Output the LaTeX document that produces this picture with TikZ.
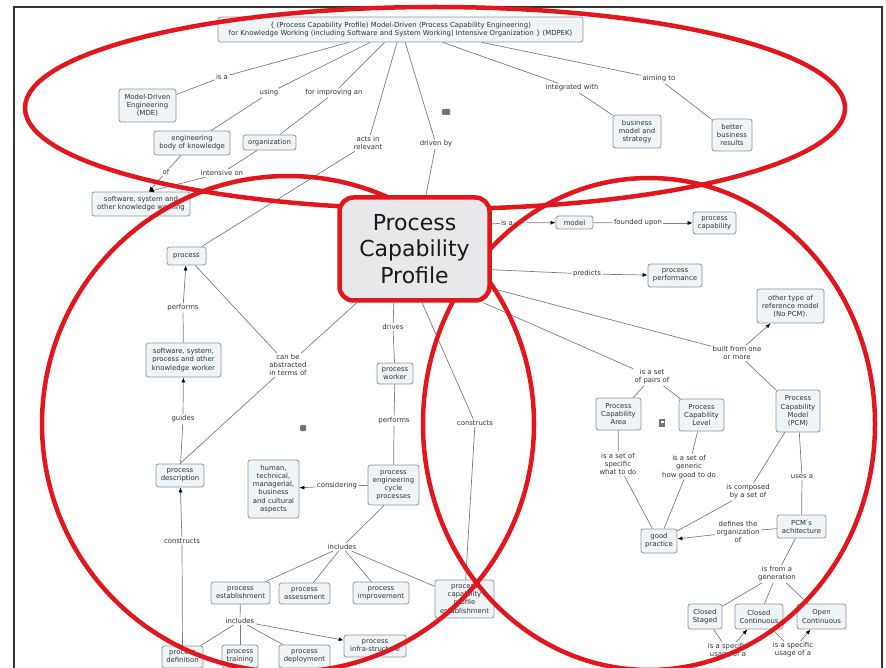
\documentclass[tikz,border=0pt]{standalone}
\usepackage{fontspec}
\setmainfont{DejaVu Sans}
\usetikzlibrary{arrows.meta,calc}

\definecolor{cfill}{HTML}{EEF4F7}
\definecolor{cline}{HTML}{8E9598}
\definecolor{ink}{HTML}{333333}
\definecolor{wire}{HTML}{7C7C7C}
\definecolor{ringred}{HTML}{E3161D}
\definecolor{hubfill}{HTML}{E8E8EB}

\pgfdeclarelayer{rings}
\pgfdeclarelayer{hubs}
\pgfsetlayers{main,rings,hubs}

\tikzset{
  concept/.style={draw=cline, fill=cfill, rounded corners=2.5pt, line width=0.8pt,
    text=ink, align=center, font=\fontsize{6.9}{8.1}\selectfont, inner sep=1pt},
  phrase/.style={text=ink, align=center, font=\fontsize{6.9}{8.1}\selectfont,
    inner sep=1.2pt, fill=white},
  hub/.style={draw=ringred, line width=4.5pt, fill=hubfill, rounded corners=14pt,
    text=black!90, align=center, font=\fontsize{22}{26.5}\selectfont,
    minimum width=150pt, minimum height=103pt},
  link/.style={draw=wire, line width=0.7pt},
  tolink/.style={link, -{Latex[length=5pt,width=4pt,color=black]}},
  ring/.style={draw=ringred, line width=4.5pt},
  icon/.style={fill=black!55, draw=none}
}

\begin{document}
\begin{tikzpicture}[x=1pt,y=-1pt]
\useasboundingbox (0,0) rectangle (886,668);

% page frame
\draw[black!80, line width=1.2pt] (14,700) -- (14,7) -- (882,7) -- (882,700);

% central concept
\begin{pgfonlayer}{hubs}
\node[hub] (pcp) at (414.5,249) {Process\\Capability\\Profile};
\end{pgfonlayer}

% ---------- concepts ----------
\node[concept, minimum width=365pt, minimum height=25pt] (top) at (400.5,29.5)
  {\{ (Process Capability Profile) Model-Driven (Process Capability Engineering)\\
   for Knowledge Working (including Software and System Working) Intensive Organization \} (MDPEK)};
\node[concept, minimum width=57pt, minimum height=33pt] (mde) at (147.5,105.5) {Model-Driven\\Engineering\\(MDE)};
\node[concept, minimum width=76pt, minimum height=24pt] (ebk) at (192,143) {engineering\\body of knowledge};
\node[concept, minimum width=53pt, minimum height=15pt] (org) at (269.5,142.5) {organization};
\node[concept, minimum width=98pt, minimum height=24pt] (sw) at (141,204) {software, system and\\other knowledge working};
\node[concept, minimum width=48pt, minimum height=33pt] (bms) at (637,131.5) {business\\model and\\strategy};
\node[concept, minimum width=40pt, minimum height=32pt] (bbr) at (732,135) {better\\business\\results};

\node[concept, minimum width=37pt, minimum height=13pt] (model) at (574.5,222.5) {model};
\node[concept, minimum width=43pt, minimum height=22pt] (pcap) at (714.5,223) {process\\capability};
\node[concept, minimum width=54pt, minimum height=23pt] (pperf) at (675,275.5) {process\\performance};
\node[concept, minimum width=67pt, minimum height=34pt] (other) at (790.5,306) {other type of\\reference model\\(No PCM).};
\node[concept, minimum width=45pt, minimum height=32pt] (pca) at (618.5,414) {Process\\Capability\\Area};
\node[concept, minimum width=45pt, minimum height=32pt] (pcl) at (701.5,415) {Process\\Capability\\Level};
\node[concept, minimum width=44pt, minimum height=42pt] (pcm) at (798,411) {Process\\Capability\\Model\\(PCM)};
\node[concept, minimum width=36pt, minimum height=24pt] (gp) at (659,541) {good\\practice};
\node[concept, minimum width=49pt, minimum height=23pt] (arch) at (801.5,526.5) {PCM\'{}s\\achitecture};
\node[concept, minimum width=34pt, minimum height=25pt] (cs) at (705,616.5) {Closed\\Staged};
\node[concept, minimum width=48pt, minimum height=25pt] (cc) at (759,616.5) {Closed\\Continuous};
\node[concept, minimum width=49pt, minimum height=25pt] (oc) at (821.5,616.5) {Open\\Continuous};

\node[concept, minimum width=39pt, minimum height=18pt] (proc) at (186.5,256) {process};
\node[concept, minimum width=75pt, minimum height=34pt] (kw) at (183.5,360) {software, system,\\process and other\\knowledge worker};
\node[concept, minimum width=48pt, minimum height=23pt] (pdesc) at (180,475.5) {process\\description};
\node[concept, minimum width=36pt, minimum height=21pt] (pworker) at (395,373.5) {process\\worker};
\node[concept, minimum width=51pt, minimum height=40pt] (pecp) at (393.5,485) {process\\engineering\\cycle\\processes};
\node[concept, minimum width=51pt, minimum height=58pt] (human) at (273.5,489) {human,\\technical,\\managerial,\\business\\and cultural\\aspects};
\node[concept, minimum width=59pt, minimum height=22pt] (pest) at (240.5,593) {process\\establishment};
\node[concept, minimum width=51pt, minimum height=21pt] (passess) at (304.5,593.5) {process\\assessment};
\node[concept, minimum width=56pt, minimum height=22pt] (pimpr) at (381,593) {process\\improvement};
\node[concept, minimum width=59pt, minimum height=38pt] (pcpe) at (464.5,599) {process\\capability\\profile\\establishment};
\node[concept, minimum width=41pt, minimum height=22pt] (pdef) at (182.5,657) {process\\definition};
\node[concept, minimum width=36pt, minimum height=23pt] (ptrain) at (240,656.5) {process\\training};
\node[concept, minimum width=51pt, minimum height=23pt] (pdeploy) at (304.5,656.5) {process\\deployment};
\node[concept, minimum width=62pt, minimum height=22pt] (pinfra) at (375,646) {process\\infra-structure};

% ---------- linking phrases ----------
\node[phrase] (isa1) at (222,77) {is a};
\node[phrase] (using) at (269,93) {using};
\node[phrase] (forimp) at (334,93) {for improving an};
\node[phrase] (acts) at (368,143) {acts in\\relevant};
\node[phrase] (drivenby) at (436,144) {driven by};
\node[phrase] (integ) at (572,88) {integrated with};
\node[phrase] (aiming) at (659,79) {aiming to};
\node[phrase] (of) at (166,172) {of};
\node[phrase] (intens) at (222,173) {intensive on};
\node[phrase] (isa2) at (507,223) {is a};
\node[phrase] (founded) at (638,223) {founded upon};
\node[phrase] (predicts) at (587,274) {predicts};
\node[phrase] (built) at (737,353) {built from one\\or more};
\node[phrase] (pairs) at (652,377) {is a set\\of pairs of};
\node[phrase] (specific) at (618,464) {is a set of\\specific\\what to do};
\node[phrase] (generic) at (689,467) {is a set of\\generic\\how good to do};
\node[phrase] (composed) at (748,492) {is composed\\by a set of};
\node[phrase] (usesa) at (802,477) {uses a};
\node[phrase] (defines) at (738,532) {defines the\\organization\\of};
\node[phrase] (gen) at (777,574) {is from a\\generation};
\node[phrase] (usage1) at (728,651) {is a specific\\usage of a};
\node[phrase] (usage2) at (793,650) {is a specific\\usage of a};
\node[phrase] (performsA) at (183,308) {performs};
\node[phrase] (abstr) at (288,365) {can be\\abstracted\\in terms of};
\node[phrase] (guides) at (183,419) {guides};
\node[phrase] (constructsA) at (182,541) {constructs};
\node[phrase] (drives) at (393,327) {drives};
\node[phrase] (performsB) at (394,421) {performs};
\node[phrase] (considering) at (337,486) {considering};
\node[phrase] (inclA) at (342,547) {includes};
\node[phrase] (constructsB) at (475,423) {constructs};
\node[phrase] (inclB) at (240,621) {includes};

% ---------- connectors ----------
\draw[link] (top.-166.85) -- (isa1);   \draw[link] (isa1) -- (mde);
\draw[link] (top.-157.7) -- (using);   \draw[link] (using) -- (ebk);
\draw[link] (top.-141.1) -- (forimp);  \draw[link] (forimp) -- (org);
\draw[link] (top.-105.6) -- (acts);    \draw[link] (acts) -- (proc);
\draw[link] (top.-70.2) -- (drivenby); \draw[link] (drivenby) -- (pcp.78.5);
\draw[link] (top.-17.6) -- (integ);    \draw[link] (integ) -- (bms);
\draw[link] (top.-9.8) -- (aiming);    \draw[link] (aiming) -- (bbr);
\draw[link] (ebk) -- (of);    \draw[tolink] (of) -- (sw.58);
\draw[link] (org) -- (intens);\draw[tolink] (intens) -- (sw.58);

\draw[link] (pcp.18) -- (isa2);        \draw[tolink] (isa2) -- (model);
\draw[link] (model) -- (founded);      \draw[tolink] (founded) -- (pcap);
\draw[link] (pcp.-15) -- (predicts);   \draw[tolink] (predicts) -- (pperf);
\draw[link] (pcp.-27) -- (built);      \draw[tolink] (built) -- (other);
\draw[link] (built) -- (pcm);
\draw[link] (pcp.-38) -- (pairs);
\draw[link] (pairs) -- (pca);          \draw[link] (pairs) -- (pcl);
\draw[link] (pca) -- (specific);       \draw[link] (specific) -- (gp);
\draw[link] (pcl) -- (generic);        \draw[link] (generic) -- (gp);
\draw[link] (pcm) -- (composed);       \draw[link] (composed) -- (gp);
\draw[link] (pcm) -- (usesa);          \draw[link] (usesa) -- (arch);
\draw[link] (arch) -- (defines);       \draw[tolink] (defines) -- (gp);
\draw[link] (arch) -- (gen);
\draw[link] (gen) -- (cs); \draw[link] (gen) -- (cc); \draw[link] (gen) -- (oc);
\draw[link] (cs) -- (usage1);          \draw[tolink] (usage1) -- (cc);
\draw[link] (cc) -- (usage2);          \draw[tolink] (usage2) -- (oc);

\draw[link] (kw) -- (performsA);       \draw[tolink] (performsA) -- (proc);
\draw[link] (pdesc) -- (guides);       \draw[tolink] (guides) -- (kw);
\draw[link] (pdef) -- (constructsA);   \draw[tolink] (constructsA) -- (pdesc);
\draw[link] (proc) -- (abstr);         \draw[link] (pcp.-137.5) -- (abstr);
\draw[link] (abstr) -- (pdesc.north);
\draw[link] (pcp.-111) -- (drives);    \draw[link] (drives) -- (pworker);
\draw[link] (pworker) -- (performsB);  \draw[link] (performsB) -- (pecp);
\draw[link] (pecp) -- (considering);   \draw[tolink] (considering) -- (human);
\draw[link] (pecp.-115) -- (inclA);
\draw[link] (inclA) -- (pest); \draw[link] (inclA) -- (passess);
\draw[link] (inclA) -- (pimpr); \draw[link] (inclA) -- (pcpe);
\draw[link] (pcp.-82) -- (constructsB); \draw[link] (constructsB) -- (pcpe);
\draw[link] (pest) -- (inclB);
\draw[link] (inclB) -- (pdef); \draw[link] (inclB) -- (ptrain);
\draw[link] (inclB) -- (pdeploy); \draw[tolink] (inclB) -- (pinfra);

% small resource icons
\fill[icon, rounded corners=1pt] (442,109) rectangle (450,115);
\fill[icon] (659,419) rectangle (665,427);
\fill[white] (660.5,421) rectangle (663.5,423);
\fill[icon, rounded corners=1pt] (300,425) rectangle (306,431);

% hand-drawn red rings
\begin{pgfonlayer}{rings}
\draw[ring] (435,108) ellipse [x radius=410, y radius=101];
\draw[ring] (288,424) ellipse [x radius=246, y radius=248];
\draw[ring] (649,424) ellipse [x radius=226, y radius=246];
\end{pgfonlayer}
\end{tikzpicture}
\end{document}
